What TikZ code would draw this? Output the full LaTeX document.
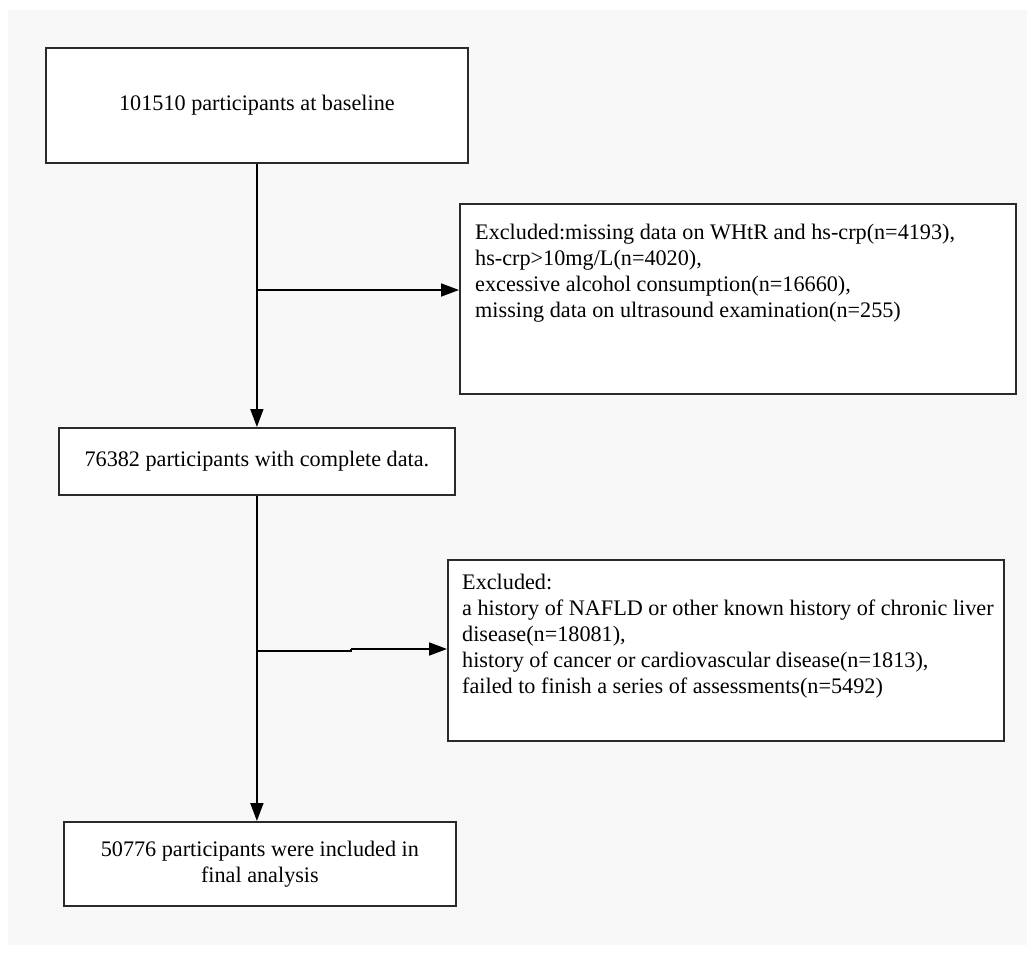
\documentclass[tikz,border=0pt]{standalone}
\usepackage{fontspec}
\setmainfont{Liberation Serif}
\usetikzlibrary{arrows.meta}
\definecolor{bggray}{HTML}{F8F8F8}
\definecolor{edge}{HTML}{2A2A2A}
\begin{document}
\begin{tikzpicture}[x=1pt,y=-1pt,
  box/.style={draw=edge,line width=1.8pt,fill=white,inner sep=0pt,anchor=north west},
  txt/.style={font=\fontsize{22.2}{26}\selectfont,inner sep=0pt,align=center},
  ltxt/.style={font=\fontsize{22.2}{26}\selectfont,inner sep=0pt,align=left,anchor=north west},
  conn/.style={draw=black,line width=1.8pt},
  arr/.style={conn,-{Triangle[length=18pt,width=13pt]}}]
\useasboundingbox (0,0) rectangle (1035,955);
\fill[white] (0,0) rectangle (1035,955);
\fill[bggray] (8,10) rectangle (1027,945);
% boxes
\node[box,minimum width=422pt,minimum height=115pt] (b1) at (45,47) {};
\node[txt] at (b1.center) {101510 participants at baseline};
\node[box,minimum width=556pt,minimum height=190pt] (e1) at (459,203) {};
\node[ltxt] at ([xshift=16pt,yshift=-21pt]e1.north west) {Excluded:missing data on WHtR and hs-crp(n=4193),\\hs-crp>10mg/L(n=4020),\\excessive alcohol consumption(n=16660),\\missing data on ultrasound examination(n=255)};
\node[box,minimum width=396pt,minimum height=67pt] (b2) at (58,427) {};
\node[txt] at (b2.center) {76382 participants with complete data.};
\node[box,minimum width=556pt,minimum height=181pt] (e2) at (447,559) {};
\node[ltxt] at ([xshift=15pt,yshift=-15pt]e2.north west) {Excluded:\\a history of NAFLD or other known history of chronic liver\\disease(n=18081),\\history of cancer or cardiovascular disease(n=1813),\\failed to finish a series of assessments(n=5492)};
\node[box,minimum width=392pt,minimum height=84pt] (b3) at (63,821) {};
\node[txt] at (b3.center) {50776 participants were included in\\final analysis};
% connectors
\draw[arr] (b1.south) -- (b1.south |- b2.north);
\coordinate (j1) at (257,290);
\draw[arr] (j1) -- (j1 -| e1.west);
\draw[arr] (b2.south) -- (b2.south |- b3.north);
\coordinate (j2) at (257,651);
\coordinate (k2) at (351,649);
\draw[conn] (j2) -- (j2 -| k2) -- (k2);
\draw[arr] (k2) -- (k2 -| e2.west);
\end{tikzpicture}
\end{document}
